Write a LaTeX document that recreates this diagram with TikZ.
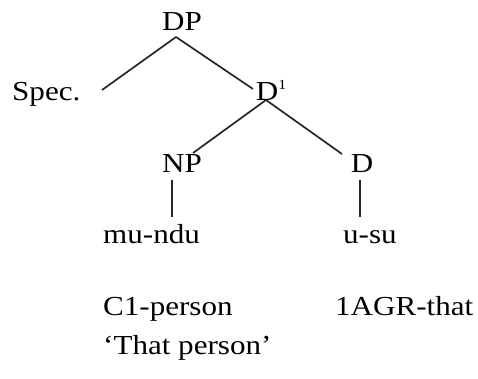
\documentclass[tikz,border=0pt]{standalone}
\usepackage{fontspec}
\setmainfont[FakeStretch=1.13]{Liberation Serif}
\begin{document}
\begin{tikzpicture}[x=1pt,y=-1pt,
  lbl/.style={font=\fontsize{27.5}{30}\selectfont, inner sep=0pt, anchor=base},
  txt/.style={font=\fontsize{27.5}{30}\selectfont, inner sep=0pt, anchor=base west},
  edge/.style={line width=1.7pt, black!85}]
\useasboundingbox (0,0) rectangle (478,379);
\node[lbl] (DP) at (182,31) {DP};
\node[txt] (Spec) at (12,101) {Spec.};
\node[lbl] (Dbar) at (271,101) {D\raisebox{0.42em}{\fontsize{14}{15}\selectfont 1}};
\node[lbl] (NP) at (182,172) {NP};
\node[lbl] (D) at (362,172) {D};
\node[txt] (mundu) at (103,243) {mu-ndu};
\node[txt] (usu) at (343,243) {u-su};
\node[txt] (gl1) at (103,315) {C1-person};
\node[txt] (gl2) at (335,315) {1AGR-that};
\node[txt] (trans) at (103,354) {`That person'};
\coordinate (dpB) at (176,37);
\coordinate (specE) at (102,90);
\coordinate (dbarT) at (253,89);
\coordinate (dbarB) at (266,100);
\coordinate (npT) at (193,153);
\coordinate (dT) at (342,154);
\coordinate (npB) at (172,180);
\coordinate (munduT) at (172,217);
\coordinate (dB) at (360,180);
\coordinate (usuT) at (360,217);
\draw[edge] (dpB) -- (specE);
\draw[edge] (dpB) -- (dbarT);
\draw[edge] (dbarB) -- (npT);
\draw[edge] (dbarB) -- (dT);
\draw[edge] (npB) -- (munduT);
\draw[edge] (dB) -- (usuT);
\end{tikzpicture}
\end{document}
